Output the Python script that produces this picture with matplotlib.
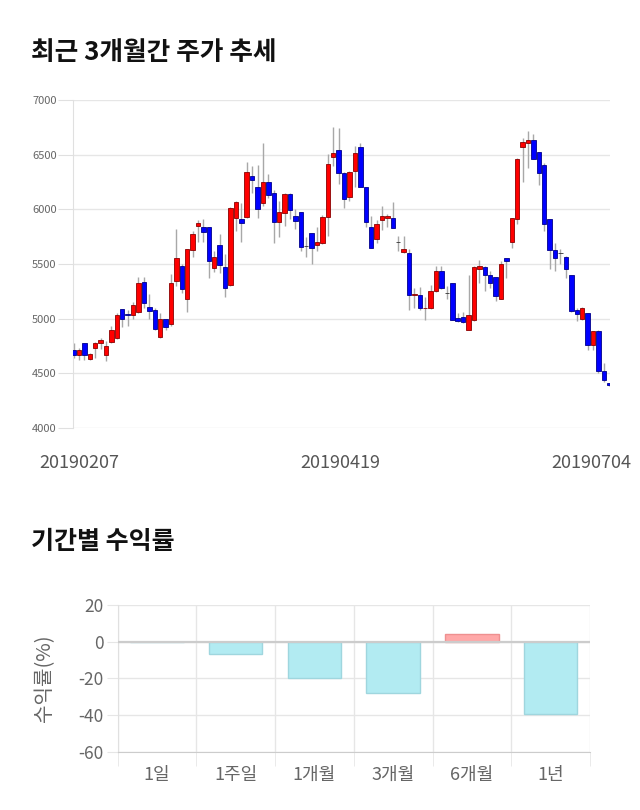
import matplotlib
matplotlib.use('Agg')
import matplotlib.pyplot as plt
import matplotlib.transforms as mtransforms
import numpy as np

plt.rcParams['font.family'] = ['Noto Sans CJK KR', 'DejaVu Sans']
plt.rcParams['axes.unicode_minus'] = False

# daily candles, 2019-02-07 .. 2019-07-04
opens = [4715, 4664, 4776, 4630, 4730, 4776, 4664, 4785, 4822, 5084,
         5041, 5032, 5063, 5334, 5105, 5075, 4831, 4996, 4950, 5340,
         5483, 5181, 5630, 5850, 5842, 5842, 5462, 5672, 5471, 5312,
         5925, 5912, 5930, 6306, 6200, 6060, 6253, 6150, 5880, 5967,
         6140, 5943, 5973, 5665, 5781, 5670, 5696, 5927, 6480, 6546,
         6336, 6114, 6355, 6567, 6200, 5842, 5731, 5900, 5921, 5924,
         5702, 5610, 5605, 5212, 5212, 5093, 5102, 5255, 5437, 5236,
         5325, 5005, 5014, 4898, 4990, 5450, 5471, 5395, 5380, 5181,
         5553, 5699, 5912, 6570, 6603, 6634, 6521, 6405, 5912, 5626,
         5605, 5562, 5395, 5075, 4996, 5050, 4761, 4889, 4524, 4411]
highs = [4776, 4730, 4776, 4685, 4785, 4822, 4792, 4929, 5050, 5090,
         5081, 5155, 5385, 5385, 5225, 5100, 5050, 5000, 5410, 5820,
         5500, 5640, 5800, 5900, 5910, 5842, 5620, 5770, 5590, 6020,
         6080, 6060, 6430, 6400, 6410, 6610, 6320, 6180, 6080, 6150,
         6150, 6000, 5980, 5750, 5781, 5840, 5950, 6510, 6750, 6740,
         6340, 6350, 6580, 6610, 6200, 5940, 5900, 6030, 5960, 6070,
         5760, 5760, 5640, 5280, 5290, 5200, 5310, 5480, 5480, 5300,
         5325, 5050, 5060, 5400, 5480, 5540, 5480, 5440, 5380, 5530,
         5553, 5921, 6470, 6650, 6720, 6690, 6521, 6420, 5912, 5690,
         5640, 5570, 5400, 5100, 5110, 5050, 4889, 4900, 4590, 4411]
lows = [4639, 4624, 4624, 4624, 4640, 4722, 4609, 4780, 4810, 4920,
        4935, 5000, 5050, 5100, 5000, 4900, 4820, 4900, 4935, 5300,
        5235, 5060, 5560, 5700, 5700, 5370, 5430, 5420, 5200, 5300,
        5800, 5700, 5920, 6150, 5920, 6030, 6100, 5690, 5750, 5850,
        5910, 5820, 5620, 5560, 5500, 5620, 5680, 5760, 6400, 6230,
        6010, 6080, 6200, 6200, 5840, 5644, 5690, 5815, 5840, 5830,
        5620, 5600, 5080, 5100, 5080, 4990, 5090, 5240, 5270, 5180,
        4990, 4970, 4960, 4898, 4980, 5330, 5250, 5280, 5160, 5180,
        5370, 5650, 5870, 6250, 6380, 6460, 6220, 5800, 5450, 5440,
        5500, 5370, 5060, 4980, 4990, 4710, 4715, 4500, 4420, 4380]
closes = [4664, 4715, 4664, 4676, 4776, 4807, 4752, 4898, 5032, 4996,
          5029, 5124, 5325, 5139, 5072, 4904, 4996, 4920, 5325, 5553,
          5270, 5635, 5772, 5872, 5796, 5532, 5562, 5492, 5282, 6010,
          6065, 5879, 6342, 6272, 6000, 6250, 6130, 5885, 5973, 6140,
          5990, 5897, 5660, 5665, 5650, 5702, 5930, 6413, 6516, 6333,
          6093, 6342, 6518, 6200, 5888, 5644, 5864, 5943, 5943, 5833,
          5702, 5635, 5221, 5227, 5102, 5102, 5255, 5437, 5282, 5236,
          4990, 4980, 4968, 5032, 5471, 5480, 5395, 5325, 5203, 5501,
          5532, 5921, 6460, 6613, 6634, 6460, 6330, 5863, 5629, 5553,
          5605, 5452, 5069, 5044, 5096, 4755, 4889, 4518, 4435, 4390]
date_labels = ['20190207', '20190419', '20190704']
date_index = [0, 50, 99]

periods = ['1일', '1주일', '1개월', '3개월', '6개월', '1년']
returns = [0.0, -6.9, -19.8, -27.8, 4.4, -39.3]

W, H = 640, 810
fig = plt.figure(figsize=(6.4, 8.1), dpi=100)

def box(l, t, r, b):
    return [l / W, 1 - b / H, (r - l) / W, (b - t) / H]

fig.text(31 / W, 1 - 52 / H, '최근 3개월간 주가 추세', fontsize=18.5, fontweight='bold',
         va='center', ha='left', color='#111111')
fig.text(31 / W, 1 - 542 / H, '기간별 수익률', fontsize=18, fontweight='bold',
         va='center', ha='left', color='#111111')

# ---- candle chart
ax = fig.add_axes(box(73.3, 100, 610, 428))
o = np.array(opens); c = np.array(closes)
x = np.arange(len(o))
body_col = np.where(c > o, '#ff0000', np.where(c < o, '#0000ff', '#333333'))
edge_col = np.where(c > o, '#8a0000', np.where(c < o, '#00008a', '#333333'))
ax.vlines(x, lows, highs, color='#a8a8a8', lw=1, zorder=2)
ax.bar(x, np.abs(c - o), bottom=np.minimum(o, c), width=0.82, color=body_col,
       edgecolor=edge_col, linewidth=0.6, zorder=3)
ax.set_xlim(-0.05, len(o) - 0.85)
ax.set_ylim(4000, 7000)
ax.set_yticks(np.arange(4000, 7001, 500))
ax.grid(axis='y', color='#e6e6e6', lw=1)
ax.set_axisbelow(True)
for s in ['top', 'right', 'bottom']:
    ax.spines[s].set_visible(False)
ax.spines['left'].set_color('#e0e0e0')
ax.tick_params(axis='y', colors='#e0e0e0', labelcolor='#666666', labelsize=8,
               length=11, pad=1)
ax.set_xticks(date_index)
ax.set_xticklabels(date_labels)
ax.tick_params(axis='x', length=0, pad=19, labelsize=13, labelcolor='#555555')
shifts = [6, -4, -18]
for lab, dx in zip(ax.get_xticklabels(), shifts):
    lab.set_transform(lab.get_transform() +
                      mtransforms.ScaledTranslation(dx / 100, 0, fig.dpi_scale_trans))

# ---- returns bar chart
ax2 = fig.add_axes(box(117.5, 605, 590, 751.7))
xi = np.arange(len(periods))
fc = ['#ffa8a8' if v > 0 else '#b2ebf2' for v in returns]
ec = ['#ee9090' if v > 0 else '#9fd6de' for v in returns]
ax2.bar(xi, returns, width=0.68, color=fc, edgecolor=ec, linewidth=1, zorder=3)
ax2.axhline(0, color='#cccccc', lw=1.6, zorder=4)
ax2.set_xlim(-0.5, len(periods) - 0.5)
ax2.set_ylim(-60, 20)
ax2.set_yticks(np.arange(-60, 21, 20))
ax2.set_xticks(xi)
ax2.set_xticklabels(periods)
ax2.set_xticks(np.arange(-0.5, len(periods), 1), minor=True)
ax2.grid(axis='y', color='#e6e6e6', lw=1)
ax2.grid(axis='x', which='minor', color='#e6e6e6', lw=1)
ax2.set_axisbelow(True)
for s in ['top', 'right']:
    ax2.spines[s].set_visible(False)
ax2.spines['left'].set_color('#e0e0e0')
ax2.spines['bottom'].set_color('#cccccc')
ax2.tick_params(axis='x', which='major', length=0, pad=10, labelsize=13,
                labelcolor='#666666')
ax2.tick_params(axis='x', which='minor', length=10, color='#e6e6e6')
ax2.tick_params(axis='y', length=8, color='#e6e6e6', labelsize=12.5,
                labelcolor='#666666', pad=2)
fig.text(45 / W, 1 - 678 / H, '수익률(%)', rotation=90, fontsize=14.5,
         color='#666666', ha='center', va='center')

fig.savefig('out.png', dpi=100)
